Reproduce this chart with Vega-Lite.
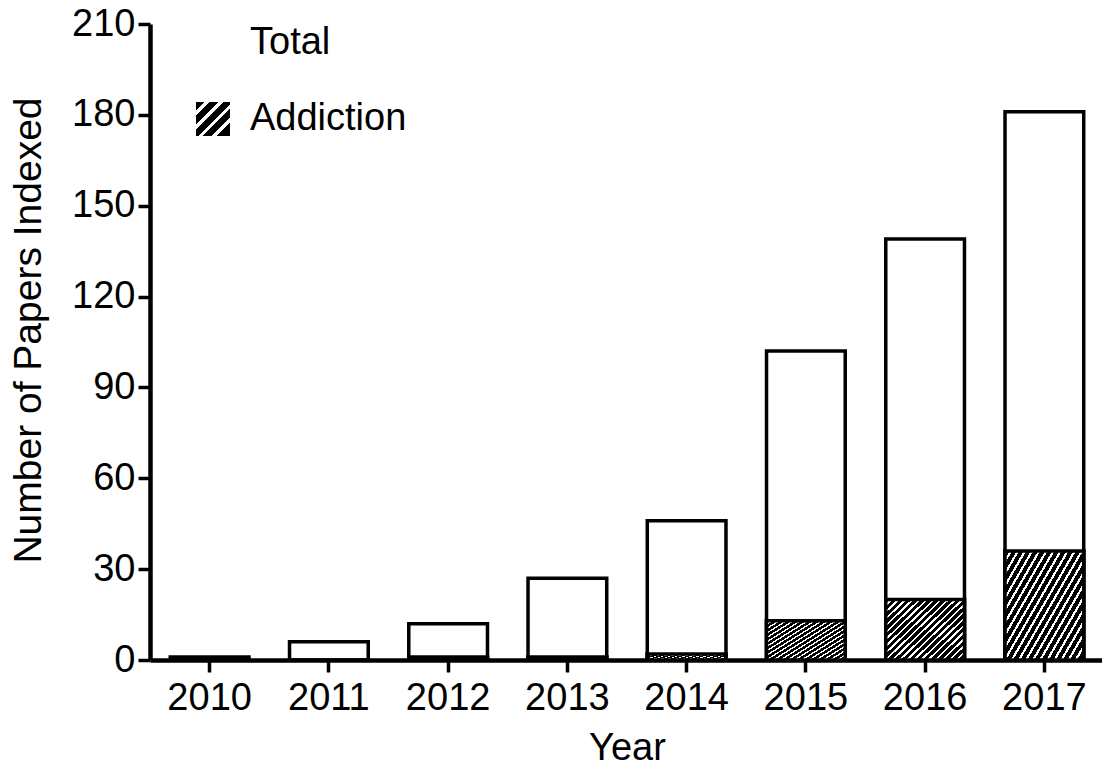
{
  "$schema": "https://vega.github.io/schema/vega-lite/v6.json",
  "width": 954,
  "height": 636,
  "autosize": "none",
  "padding": {"left": 150, "top": 24, "right": 0, "bottom": 111},
  "background": "white",
  "data": {
    "values": [
      {"Year": "2010", "Series": "Total", "Papers": 1},
      {"Year": "2011", "Series": "Total", "Papers": 6},
      {"Year": "2012", "Series": "Total", "Papers": 12},
      {"Year": "2013", "Series": "Total", "Papers": 27},
      {"Year": "2014", "Series": "Total", "Papers": 46},
      {"Year": "2015", "Series": "Total", "Papers": 102},
      {"Year": "2016", "Series": "Total", "Papers": 139},
      {"Year": "2017", "Series": "Total", "Papers": 181},
      {"Year": "2010", "Series": "Addiction", "Papers": 0},
      {"Year": "2011", "Series": "Addiction", "Papers": 0},
      {"Year": "2012", "Series": "Addiction", "Papers": 1},
      {"Year": "2013", "Series": "Addiction", "Papers": 1},
      {"Year": "2014", "Series": "Addiction", "Papers": 2},
      {"Year": "2015", "Series": "Addiction", "Papers": 13},
      {"Year": "2016", "Series": "Addiction", "Papers": 20},
      {"Year": "2017", "Series": "Addiction", "Papers": 36}
    ]
  },
  "encoding": {
    "x": {
      "field": "Year",
      "type": "ordinal",
      "scale": {"paddingInner": 0.34, "paddingOuter": 0.17},
      "axis": {
        "title": "Year",
        "labelAngle": 0,
        "labelFont": "Liberation Sans",
        "labelFontSize": 38,
        "labelColor": "black",
        "labelPadding": 7,
        "titleFont": "Liberation Sans",
        "titleFontSize": 38,
        "titleFontWeight": "normal",
        "titleColor": "black",
        "titlePadding": 12,
        "domainColor": "black",
        "domainWidth": 4.5,
        "tickColor": "black",
        "tickWidth": 3.5,
        "tickSize": 12
      }
    },
    "y": {
      "field": "Papers",
      "type": "quantitative",
      "stack": null,
      "scale": {"domain": [0, 210], "nice": false},
      "axis": {
        "title": "Number of Papers Indexed",
        "values": [0, 30, 60, 90, 120, 150, 180, 210],
        "grid": false,
        "labelFont": "Liberation Sans",
        "labelFontSize": 38,
        "labelColor": "black",
        "labelPadding": 3,
        "titleFont": "Liberation Sans",
        "titleFontSize": 39,
        "titleFontWeight": "normal",
        "titleColor": "black",
        "titlePadding": 23,
        "titleY": 306,
        "domainColor": "black",
        "domainWidth": 4.5,
        "tickColor": "black",
        "tickWidth": 3.5,
        "tickSize": 12
      }
    },
    "stroke": {"value": "black"},
    "strokeWidth": {"value": 3.5}
  },
  "layer": [
    {
      "transform": [{"filter": "datum.Series === 'Addiction'"}],
      "mark": {
        "type": "bar",
        "stroke": "black",
        "strokeWidth": 3.5,
        "strokeJoin": "miter",
        "fill": {
          "gradient": "linear",
          "x1": 0, "y1": 0, "x2": 1, "y2": 1,
          "stops": [
            {"offset": 0, "color": "black"}, {"offset": 0.13, "color": "black"}, {"offset": 0.13, "color": "white"}, {"offset": 0.2, "color": "white"},
            {"offset": 0.2, "color": "black"}, {"offset": 0.33, "color": "black"}, {"offset": 0.33, "color": "white"}, {"offset": 0.4, "color": "white"},
            {"offset": 0.4, "color": "black"}, {"offset": 0.53, "color": "black"}, {"offset": 0.53, "color": "white"}, {"offset": 0.6, "color": "white"},
            {"offset": 0.6, "color": "black"}, {"offset": 0.73, "color": "black"}, {"offset": 0.73, "color": "white"}, {"offset": 0.8, "color": "white"},
            {"offset": 0.8, "color": "black"}, {"offset": 1, "color": "black"}
          ]
        }
      },
      "encoding": {
        "opacity": {
          "field": "Series",
          "type": "nominal",
          "scale": {"domain": ["Addiction"], "range": [1]},
          "legend": {
            "title": null,
            "orient": "none",
            "legendX": 44,
            "legendY": 76,
            "padding": 0,
            "symbolType": "square",
            "symbolSize": 1156,
            "symbolStrokeColor": "black",
            "symbolStrokeWidth": 3.5,
            "labelFont": "Liberation Sans",
            "labelFontSize": 38,
            "labelColor": "black",
            "labelOffset": 18
          }
        }
      }
    },
    {
      "transform": [{"filter": "datum.Series === 'Total'"}],
      "mark": {"type": "bar", "fill": "white", "stroke": "black", "strokeWidth": 3.5, "strokeJoin": "miter"},
      "encoding": {
        "opacity": {
          "field": "Series",
          "type": "nominal",
          "scale": {"domain": ["Total"], "range": [1]},
          "legend": {
            "title": null,
            "orient": "none",
            "legendX": 44,
            "legendY": 0,
            "padding": 0,
            "symbolType": "square",
            "symbolSize": 1156,
            "symbolStrokeColor": "black",
            "symbolStrokeWidth": 3.5,
            "labelFont": "Liberation Sans",
            "labelFontSize": 38,
            "labelColor": "black",
            "labelOffset": 18
          }
        }
      }
    },
    {
      "transform": [{"filter": "datum.Series === 'Addiction'"}],
      "mark": {
        "type": "bar",
        "stroke": "black",
        "strokeWidth": 3.5,
        "strokeJoin": "miter",
        "fill": {
          "gradient": "linear",
          "x1": 0, "y1": 0, "x2": 1.1, "y2": 0.88,
          "stops": [
            {"offset": 0, "color": "black"}, {"offset": 0.0325, "color": "black"}, {"offset": 0.0325, "color": "white"}, {"offset": 0.05, "color": "white"},
            {"offset": 0.05, "color": "black"}, {"offset": 0.0825, "color": "black"}, {"offset": 0.0825, "color": "white"}, {"offset": 0.1, "color": "white"},
            {"offset": 0.1, "color": "black"}, {"offset": 0.1325, "color": "black"}, {"offset": 0.1325, "color": "white"}, {"offset": 0.15, "color": "white"},
            {"offset": 0.15, "color": "black"}, {"offset": 0.1825, "color": "black"}, {"offset": 0.1825, "color": "white"}, {"offset": 0.2, "color": "white"},
            {"offset": 0.2, "color": "black"}, {"offset": 0.2325, "color": "black"}, {"offset": 0.2325, "color": "white"}, {"offset": 0.25, "color": "white"},
            {"offset": 0.25, "color": "black"}, {"offset": 0.2825, "color": "black"}, {"offset": 0.2825, "color": "white"}, {"offset": 0.3, "color": "white"},
            {"offset": 0.3, "color": "black"}, {"offset": 0.3325, "color": "black"}, {"offset": 0.3325, "color": "white"}, {"offset": 0.35, "color": "white"},
            {"offset": 0.35, "color": "black"}, {"offset": 0.3825, "color": "black"}, {"offset": 0.3825, "color": "white"}, {"offset": 0.4, "color": "white"},
            {"offset": 0.4, "color": "black"}, {"offset": 0.4325, "color": "black"}, {"offset": 0.4325, "color": "white"}, {"offset": 0.45, "color": "white"},
            {"offset": 0.45, "color": "black"}, {"offset": 0.4825, "color": "black"}, {"offset": 0.4825, "color": "white"}, {"offset": 0.5, "color": "white"},
            {"offset": 0.5, "color": "black"}, {"offset": 0.5325, "color": "black"}, {"offset": 0.5325, "color": "white"}, {"offset": 0.55, "color": "white"},
            {"offset": 0.55, "color": "black"}, {"offset": 0.5825, "color": "black"}, {"offset": 0.5825, "color": "white"}, {"offset": 0.6, "color": "white"},
            {"offset": 0.6, "color": "black"}, {"offset": 0.6325, "color": "black"}, {"offset": 0.6325, "color": "white"}, {"offset": 0.65, "color": "white"},
            {"offset": 0.65, "color": "black"}, {"offset": 0.6825, "color": "black"}, {"offset": 0.6825, "color": "white"}, {"offset": 0.7, "color": "white"},
            {"offset": 0.7, "color": "black"}, {"offset": 0.7325, "color": "black"}, {"offset": 0.7325, "color": "white"}, {"offset": 0.75, "color": "white"},
            {"offset": 0.75, "color": "black"}, {"offset": 0.7825, "color": "black"}, {"offset": 0.7825, "color": "white"}, {"offset": 0.8, "color": "white"},
            {"offset": 0.8, "color": "black"}, {"offset": 0.8325, "color": "black"}, {"offset": 0.8325, "color": "white"}, {"offset": 0.85, "color": "white"},
            {"offset": 0.85, "color": "black"}, {"offset": 0.8825, "color": "black"}, {"offset": 0.8825, "color": "white"}, {"offset": 0.9, "color": "white"},
            {"offset": 0.9, "color": "black"}, {"offset": 0.9325, "color": "black"}, {"offset": 0.9325, "color": "white"}, {"offset": 0.95, "color": "white"},
            {"offset": 0.95, "color": "black"}, {"offset": 0.9825, "color": "black"}, {"offset": 0.9825, "color": "white"}, {"offset": 1, "color": "black"}
          ]
        }
      }
    }
  ],
  "resolve": {
    "scale": {"opacity": "independent"},
    "legend": {"opacity": "independent"}
  },
  "config": {
    "view": {"stroke": null},
    "axis": {"labelFlush": false},
    "legend": {"symbolStrokeColor": "black", "symbolStrokeWidth": 3.5, "symbolBaseStrokeColor": "black"}
  }
}
